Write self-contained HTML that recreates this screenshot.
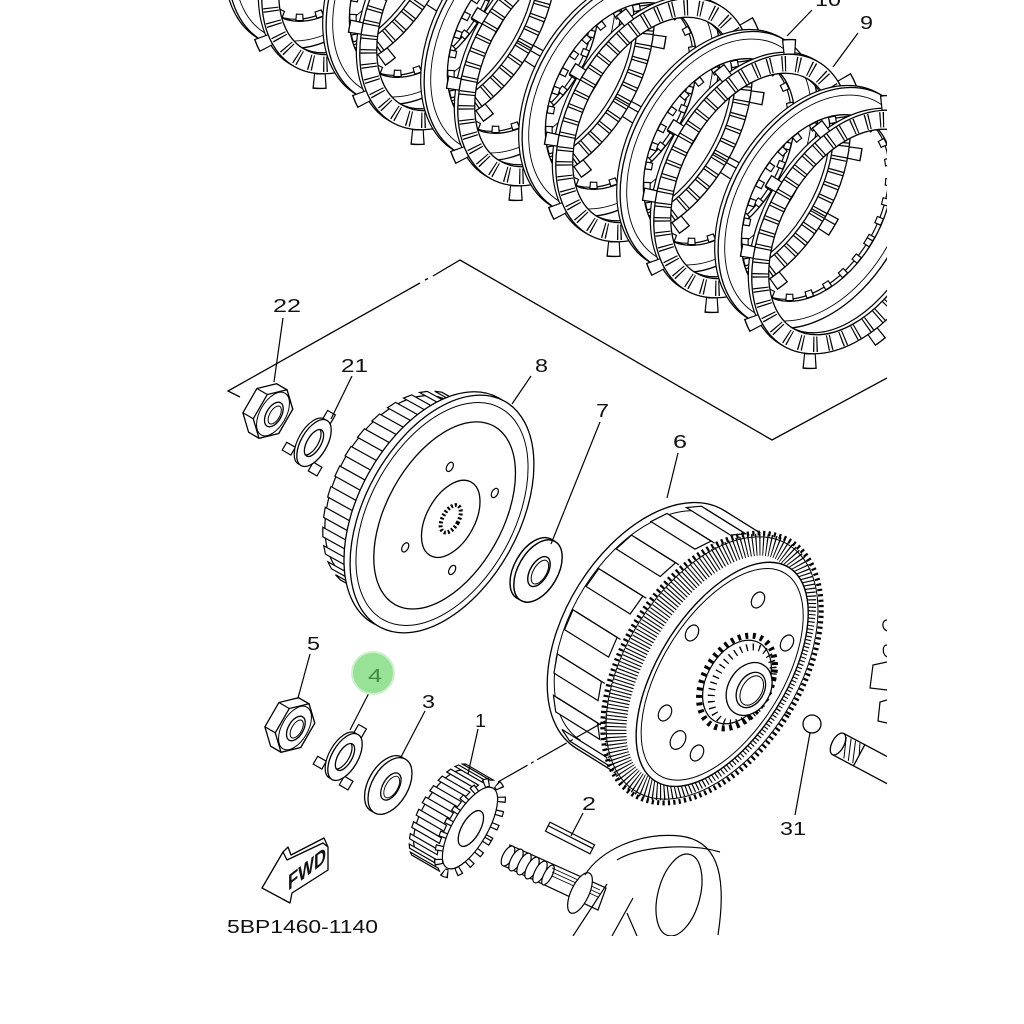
<!DOCTYPE html>
<html><head><meta charset="utf-8"><style>
html,body{margin:0;padding:0;background:#fff;}
svg{display:block}
text{font-family:"Liberation Sans",sans-serif;fill:#111;}
</style></head><body>
<svg width="1024" height="1024" viewBox="0 0 1024 1024" xmlns="http://www.w3.org/2000/svg">
<defs>
<clipPath id="clipMain"><rect x="0" y="0" width="887" height="936"/></clipPath>
<g id="F">
 <path transform="translate(-4,0)" fill="#fff" fill-rule="evenodd" stroke="#000" stroke-width="1.2" d="M-84 0A84 132 0 1 0 84 0A84 132 0 1 0 -84 0ZM-68 0A68 112 0 1 0 68 0A68 112 0 1 0 -68 0Z"/>
 <ellipse rx="89" ry="140" fill="none" stroke="#000" stroke-width="16" stroke-dasharray="13 59.2"/>
 <ellipse rx="89" ry="140" fill="none" stroke="#fff" stroke-width="13.2" stroke-dasharray="10.6 61.6" stroke-dashoffset="-1.2"/>
 <path fill="#fff" fill-rule="evenodd" stroke="#000" stroke-width="1.3" d="M-84 0A84 132 0 1 0 84 0A84 132 0 1 0 -84 0ZM-68 0A68 112 0 1 0 68 0A68 112 0 1 0 -68 0Z"/>
 <ellipse rx="76" ry="122" fill="none" stroke="#000" stroke-width="15.5" stroke-dasharray="1.2 2 1.2 9.8"/>
</g>
<g id="S">
 <path transform="translate(-4,0)" fill="#fff" fill-rule="evenodd" stroke="#000" stroke-width="1.2" d="M-86 0A86 130 0 1 0 86 0A86 130 0 1 0 -86 0ZM-65 0A65 101 0 1 0 65 0A65 101 0 1 0 -65 0Z"/>
 <path fill="#fff" fill-rule="evenodd" stroke="#000" stroke-width="1.3" d="M-86 0A86 130 0 1 0 86 0A86 130 0 1 0 -86 0ZM-65 0A65 101 0 1 0 65 0A65 101 0 1 0 -65 0Z"/>
 <ellipse rx="61.5" ry="97" fill="none" stroke="#000" stroke-width="7.5" stroke-dasharray="8 12"/>
 <ellipse rx="61.5" ry="97" fill="none" stroke="#fff" stroke-width="5.2" stroke-dasharray="5.6 14.4" stroke-dashoffset="-1.2"/>
 <ellipse rx="80" ry="122" fill="none" stroke="#000" stroke-width="0.9"/>
</g>
<g id="NUT">
 <polygon points="0,-28 14.7,-14 14.7,14 0,28 -12,28 -26.7,14 -26.7,-14 -12,-28" fill="#fff" stroke="#000" stroke-width="1.3"/>
 <path d="M-14.7 14H-26.7M-14.7 -14H-26.7" stroke="#000" stroke-width="1.2" fill="none"/>
 <polygon points="0,-28 14.7,-14 14.7,14 0,28 -14.7,14 -14.7,-14" fill="#fff" stroke="#000" stroke-width="1.3"/>
 <ellipse rx="13" ry="24" fill="none" stroke="#000" stroke-width="1"/>
 <ellipse cx="1" rx="7.5" ry="13.5" fill="#fff" stroke="#000" stroke-width="1.3"/>
 <ellipse cx="2" rx="5" ry="10" fill="none" stroke="#000" stroke-width="1"/>
</g>
<g id="LW">
 <rect x="-4.5" y="-35" width="9" height="11" fill="#fff" stroke="#000" stroke-width="1.2"/>
 <rect x="9" y="17" width="10" height="10" fill="#fff" stroke="#000" stroke-width="1.2"/>
 <rect x="-24" y="13" width="10" height="9" fill="#fff" stroke="#000" stroke-width="1.2"/>
 <path transform="translate(-3,0)" fill="#fff" fill-rule="evenodd" stroke="#000" stroke-width="1.2" d="M-13 0A13 26 0 1 0 13 0A13 26 0 1 0 -13 0ZM-7 0A7 15 0 1 0 7 0A7 15 0 1 0 -7 0Z"/>
 <path fill="#fff" fill-rule="evenodd" stroke="#000" stroke-width="1.3" d="M-13 0A13 26 0 1 0 13 0A13 26 0 1 0 -13 0ZM-7 0A7 15 0 1 0 7 0A7 15 0 1 0 -7 0Z"/>
</g>
<g id="W">
 <ellipse cx="-4" rx="18" ry="31" fill="#fff" stroke="#000" stroke-width="1.3"/>
 <ellipse rx="18" ry="31" fill="#fff" stroke="#000" stroke-width="1.3"/>
 <ellipse cx="1" rx="8" ry="15" fill="#fff" stroke="#000" stroke-width="1.3"/>
 <ellipse cx="2" rx="6" ry="12" fill="none" stroke="#000" stroke-width="0.9"/>
</g>
</defs>
<rect width="1024" height="1024" fill="#fff"/>

<g clip-path="url(#clipMain)">
<!-- clutch plates -->
<use href="#S" transform="translate(327,-72) rotate(30)"/>
<use href="#F" transform="translate(360,-48) rotate(30)"/>
<use href="#S" transform="translate(425,-16) rotate(30)"/>
<use href="#F" transform="translate(458,8) rotate(30)"/>
<use href="#S" transform="translate(523,40) rotate(30)"/>
<use href="#F" transform="translate(556,64) rotate(30)"/>
<use href="#S" transform="translate(621,96) rotate(30)"/>
<use href="#F" transform="translate(654,120) rotate(30)"/>
<use href="#S" transform="translate(719,152) rotate(30)"/>
<use href="#F" transform="translate(752,176) rotate(30)"/>
<use href="#S" transform="translate(817,208) rotate(30)"/>
<use href="#F" transform="translate(850,232) rotate(30)"/>

<!-- boundary line -->
<polyline points="240,397 228,391 420,283" fill="none" stroke="#000" stroke-width="1.3"/>
<path d="M425,280 L428,278.5 M433,276 L460,260 L772,440 L887,378" fill="none" stroke="#000" stroke-width="1.3"/>

<!-- boss 8 -->
<g transform="translate(442,514) rotate(29)" stroke="#000" stroke-width="1.2" fill="#fff">
 <ellipse cx="-50" rx="62" ry="102"/>
 <rect x="-50" y="-102" width="50" height="204" stroke="none"/>
 <polygon points="-59.3,-106.4 -15.3,-106.4 -21.9,-103.8 -65.9,-103.8"/>
 <polygon points="-72.4,-100.1 -28.4,-100.1 -34.5,-95.4 -78.5,-95.4"/>
 <polygon points="-84.3,-89.5 -40.3,-89.5 -45.8,-82.7 -89.8,-82.7"/>
 <polygon points="-94.7,-75.1 -50.7,-75.1 -55.2,-66.5 -99.2,-66.5"/>
 <polygon points="-103.1,-57.2 -59.1,-57.2 -62.4,-47.3 -106.4,-47.3"/>
 <polygon points="-109.1,-36.9 -65.1,-36.9 -67.1,-26.1 -111.1,-26.1"/>
 <polygon points="-112.4,-15 -68.4,-15 -68.9,-3.8 -112.9,-3.8"/>
 <polygon points="-112.8,7.6 -68.8,7.6 -68,18.8 -112,18.8"/>
 <polygon points="-110.5,29.8 -66.5,29.8 -64.3,40.5 -108.3,40.5"/>
 <polygon points="-105.4,50.7 -61.4,50.7 -57.9,60.4 -101.9,60.4"/>
 <polygon points="-97.8,69.4 -53.8,69.4 -49.2,77.7 -93.2,77.7"/>
 <polygon points="-88,85.1 -44,85.1 -38.5,91.6 -82.5,91.6"/>
 <polygon points="-76.5,97.1 -32.5,97.1 -26.2,101.5 -70.2,101.5"/>
 <polygon points="-63.7,104.8 -19.7,104.8 -13,106.9 -57,106.9"/>
 <ellipse cx="-7" rx="77" ry="129" stroke-width="1.3"/>
 <ellipse rx="77" ry="129" stroke-width="1.3"/>
 <ellipse rx="72" ry="121" fill="none" stroke-width="1"/>
 <ellipse cx="3" rx="58" ry="102" fill="none" stroke-width="1.3"/>
 <ellipse cx="10" rx="24" ry="42" fill="none" stroke-width="1.3"/>
 <ellipse cx="10" rx="8" ry="15" stroke-width="4" stroke-dasharray="2 2"/>
 <ellipse cx="-16" cy="-45" rx="3" ry="5"/>
 <ellipse cx="36" cy="-44" rx="3" ry="5"/>
 <ellipse cx="-16" cy="47" rx="3" ry="5"/>
 <ellipse cx="36" cy="44" rx="3" ry="5"/>
</g>

<!-- nut 22, washer 21 -->
<use href="#NUT" transform="translate(273,414) rotate(30)"/>
<use href="#LW" transform="translate(314,443) rotate(30)"/>
<!-- washer 7 -->
<use href="#W" transform="translate(538,571) rotate(30) scale(1.1)"/>

<!-- housing 6 -->
<g transform="translate(712,668) rotate(32)" stroke="#000" stroke-width="1.3" fill="#fff">
 <ellipse cx="-73" rx="84" ry="140"/>
 <ellipse cx="-73" rx="78" ry="131" fill="none" stroke-width="1"/>
 <rect x="-73" y="-140" width="73" height="280" stroke="none"/>
 <path d="M-73 -140H0M-73 140H0" fill="none"/>
 <g stroke-width="1.2">
 <polygon points="-94.7,-131.6 -42.7,-131.6 -54.7,-122.5 -106.7,-122.5"/>
 <polygon points="-120,-107.2 -68,-107.2 -77.4,-91.8 -129.4,-91.8"/>
 <polygon points="-138.7,-70 -86.7,-70 -92.4,-50.2 -144.4,-50.2"/>
 <polygon points="-148.7,-24.3 -96.7,-24.3 -98,-2.4 -150,-2.4"/>
 <polygon points="-148.7,24.3 -96.7,24.3 -93.4,45.6 -145.4,45.6"/>
 <polygon points="-138.7,70 -86.7,70 -79.3,88.1 -131.3,88.1"/>
 <polygon points="-120,107.2 -68,107.2 -57.3,120 -109.3,120"/>
 <polygon points="-94.7,131.6 -42.7,131.6 -30,137.4 -82,137.4"/>
 <g fill="none" transform="translate(4,0)">
 <polyline points="-94.7,-131.6 -42.7,-131.6"/>
 <polyline points="-120,-107.2 -68,-107.2"/>
 <polyline points="-138.7,-70 -86.7,-70"/>
 <polyline points="-148.7,-24.3 -96.7,-24.3"/>
 <polyline points="-148.7,24.3 -96.7,24.3"/>
 <polyline points="-138.7,70 -86.7,70"/>
 <polyline points="-120,107.2 -68,107.2"/>
 </g>
 </g>
 <ellipse rx="89" ry="149" stroke-width="5" stroke-dasharray="2.2 3.2"/>
 <ellipse cx="-2" rx="72" ry="137" fill="none" stroke-width="22" stroke-dasharray="1.1 2.4"/>
 <ellipse rx="86" ry="145" fill="none" stroke-width="1"/>
 <ellipse cx="12" rx="64" ry="126" stroke-width="1.4"/>
 <ellipse cx="12" rx="60" ry="119" fill="none" stroke-width="1"/>
</g>
<!-- housing holes -->
<g stroke="#000" stroke-width="1.2" fill="#fff">
 <ellipse transform="translate(758,600) rotate(30)" rx="6" ry="8.5"/>
 <ellipse transform="translate(692,633) rotate(30)" rx="6" ry="8.5"/>
 <ellipse transform="translate(787,643) rotate(30)" rx="6" ry="8.5"/>
 <ellipse transform="translate(665,713) rotate(30)" rx="6" ry="8.5"/>
 <ellipse transform="translate(678,740) rotate(30)" rx="7" ry="10"/>
 <ellipse transform="translate(697,753) rotate(30)" rx="6" ry="8.5"/>
</g>
<!-- hub -->
<g transform="translate(737,682) rotate(30)" stroke="#000" fill="#fff">
 <ellipse rx="33" ry="50" stroke-width="6" stroke-dasharray="3 4.5"/>
 <ellipse rx="30" ry="45" stroke-width="1.2"/>
 <ellipse cx="6" rx="27" ry="41" fill="none" stroke-width="7" stroke-dasharray="1.3 5"/>
 <ellipse cx="14" rx="21" ry="28" stroke-width="1.3"/>
 <ellipse cx="16" rx="13" ry="19" stroke-width="1.3"/>
 <ellipse cx="17" rx="10" ry="16" fill="none" stroke-width="1"/>
</g>

<!-- ball 31 and shaft -->
<circle cx="812" cy="724" r="9" fill="#fff" stroke="#000" stroke-width="1.3"/>
<g transform="translate(838,744) rotate(28)" stroke="#000" stroke-width="1.3" fill="#fff">
 <rect x="0" y="-12" width="90" height="24" stroke="none"/>
 <path d="M0 -12H90M0 12H90" fill="none"/>
 <ellipse rx="6" ry="12"/>
 <path d="M4 -10L12 10M9 -11L17 10M14 -11L22 10M19 -11L24 0" fill="none" stroke-width="1"/>
 <path d="M24 -12V12" fill="none"/>
</g>
<!-- right partial part -->
<g fill="none" stroke="#000" stroke-width="1.2">
 <polyline points="887,662 873,665 870,688 887,690"/>
 <polyline points="887,700 880,702 878,721 887,723"/>
 <path d="M887,620 C882,620 881,628 887,631"/>
 <path d="M887,645 C882,645 882,654 887,657"/>
</g>

<!-- nut 5, lock washer 4, washer 3 -->
<use href="#NUT" transform="translate(295,728) rotate(30)"/>
<use href="#LW" transform="translate(345,757) rotate(30)"/>
<use href="#W" transform="translate(390,786) rotate(30)"/>

<!-- pinion 1 -->
<g transform="translate(470,828) rotate(30)" stroke="#000" stroke-width="1.2" fill="#fff">
 <ellipse cx="-32" rx="19" ry="47"/>
 <rect x="-32" y="-47" width="32" height="94" stroke="none"/>
 <polygon points="-35.8,-53.2 -3.8,-53.2 -6.4,-51.6 -38.4,-51.6"/>
 <polygon points="-41.3,-48.9 -9.3,-48.9 -11.7,-45.8 -43.7,-45.8"/>
 <polygon points="-46.1,-41.4 -14.1,-41.4 -16.1,-36.8 -48.1,-36.8"/>
 <polygon points="-50,-31 -18,-31 -19.4,-25.3 -51.4,-25.3"/>
 <polygon points="-52.7,-18.5 -20.7,-18.5 -21.4,-12.1 -53.4,-12.1"/>
 <polygon points="-53.9,-4.7 -21.9,-4.7 -22,1.9 -54,1.9"/>
 <polygon points="-53.7,9.4 -21.7,9.4 -21,15.8 -53,15.8"/>
 <polygon points="-51.9,22.8 -19.9,22.8 -18.7,28.6 -50.7,28.6"/>
 <polygon points="-48.9,34.7 -16.9,34.7 -15,39.5 -47,39.5"/>
 <polygon points="-44.6,44.2 -12.6,44.2 -10.3,47.7 -42.3,47.7"/>
 <polygon points="-39.5,50.7 -7.5,50.7 -5,52.6 -37,52.6"/>
 <ellipse rx="21" ry="51.5" fill="none" stroke-width="9" stroke-dasharray="6 7.8"/>
 <ellipse rx="21" ry="51.5" fill="none" stroke="#fff" stroke-width="6.6" stroke-dasharray="3.6 10.2" stroke-dashoffset="-1.2"/>
 <ellipse rx="17.5" ry="46" stroke-width="1.2"/>
 <ellipse cx="1" rx="9" ry="20" stroke-width="1.3"/>
</g>

<!-- key 2 -->
<g transform="translate(570,838) rotate(27)" stroke="#000" stroke-width="1.2" fill="#fff">
 <rect x="-25" y="-5" width="50" height="10"/>
 <path d="M-25 -1H25" fill="none"/>
</g>

<!-- crankshaft -->
<g stroke="#000" stroke-width="1.2" fill="#fff">
 <polygon points="510,845 606,888 598,910 504,866"/>
 <ellipse transform="translate(508,856) rotate(28)" rx="5" ry="11"/>
 <ellipse transform="translate(516,860) rotate(28)" rx="5" ry="12"/>
 <ellipse transform="translate(524,864) rotate(28)" rx="5" ry="12"/>
 <ellipse transform="translate(532,868) rotate(28)" rx="5" ry="12"/>
 <ellipse transform="translate(540,872) rotate(28)" rx="5" ry="12"/>
 <ellipse transform="translate(548,875) rotate(28)" rx="4" ry="11"/>
 <path d="M552,868 L600,890 M552,872 L600,894 M552,876 L598,897" fill="none" stroke-width="0.8"/>
 <ellipse transform="translate(580,893) rotate(25)" rx="9" ry="22"/>
 <path d="M585,875 C600,850 640,832 680,836 C715,840 728,870 718,935" fill="none"/>
 <path d="M617,860 C640,846 690,843 720,852" fill="none"/>
 <ellipse transform="translate(679,895) rotate(15)" rx="21" ry="42" fill="none"/>
 <path d="M607,884 L573,936 M633,898 L612,936 M627,913 L637,936" fill="none"/>
</g>

<!-- FWD arrow -->
<g stroke="#000" stroke-width="1.3" fill="#fff" stroke-linejoin="round">
 <polygon points="262,888 283,852 287,860 323,843 328,847 328,870 292,893 290,903"/>
 <polyline points="283,852 288,847 291,855 324,838 328,847" fill="none"/>
</g>
<text x="0" y="0" transform="translate(288,891) skewY(-38)" font-size="22" font-weight="bold" textLength="38" lengthAdjust="spacingAndGlyphs">FWD</text>

<!-- leader lines -->
<g stroke="#000" stroke-width="1.2" fill="none">
 <path d="M283,318 L274,382"/>
 <path d="M352,376 L331,419"/>
 <path d="M531,376 L512,404"/>
 <path d="M600,422 L551,544"/>
 <path d="M678,453 L667,498"/>
 <path d="M795,815 L810,733"/>
 <path d="M583,813 L571,836"/>
 <path d="M310,654 L298,698"/>
 <path d="M372,687 L350,730"/>
 <path d="M425,711 L401,757"/>
 <path d="M478,729 L468,774"/>
 <path d="M812,10 L787,36"/>
 <path d="M858,33 L833,67"/>
 <path d="M498,782 L607,720" stroke-dasharray="34 4 3 4"/>
</g>

<!-- labels -->
<g font-size="18">
 <text x="273" y="312" textLength="28" lengthAdjust="spacingAndGlyphs">22</text>
 <text x="341" y="372" textLength="27" lengthAdjust="spacingAndGlyphs">21</text>
 <text x="535" y="372" textLength="13" lengthAdjust="spacingAndGlyphs">8</text>
 <text x="596" y="417" textLength="13" lengthAdjust="spacingAndGlyphs">7</text>
 <text x="673" y="448" textLength="14" lengthAdjust="spacingAndGlyphs">6</text>
 <text x="780" y="835" textLength="26" lengthAdjust="spacingAndGlyphs">31</text>
 <text x="582" y="810" textLength="14" lengthAdjust="spacingAndGlyphs">2</text>
 <text x="307" y="650" textLength="13" lengthAdjust="spacingAndGlyphs">5</text>
 <text x="422" y="708" textLength="13" lengthAdjust="spacingAndGlyphs">3</text>
 <text x="475" y="727" textLength="11" lengthAdjust="spacingAndGlyphs">1</text>
 <text x="860" y="29" textLength="13" lengthAdjust="spacingAndGlyphs">9</text>
 <text x="815" y="6" textLength="26" lengthAdjust="spacingAndGlyphs">10</text>
 <text x="227" y="933" textLength="151" lengthAdjust="spacingAndGlyphs">5BP1460-1140</text>
</g>
<circle cx="373" cy="673" r="21" fill="#97e297" stroke="#cdf0cd" stroke-width="2"/>
<text x="368" y="682" font-size="18" textLength="14" lengthAdjust="spacingAndGlyphs" style="fill:#3f8a3f">4</text>
</g>
</svg>
</body></html>
